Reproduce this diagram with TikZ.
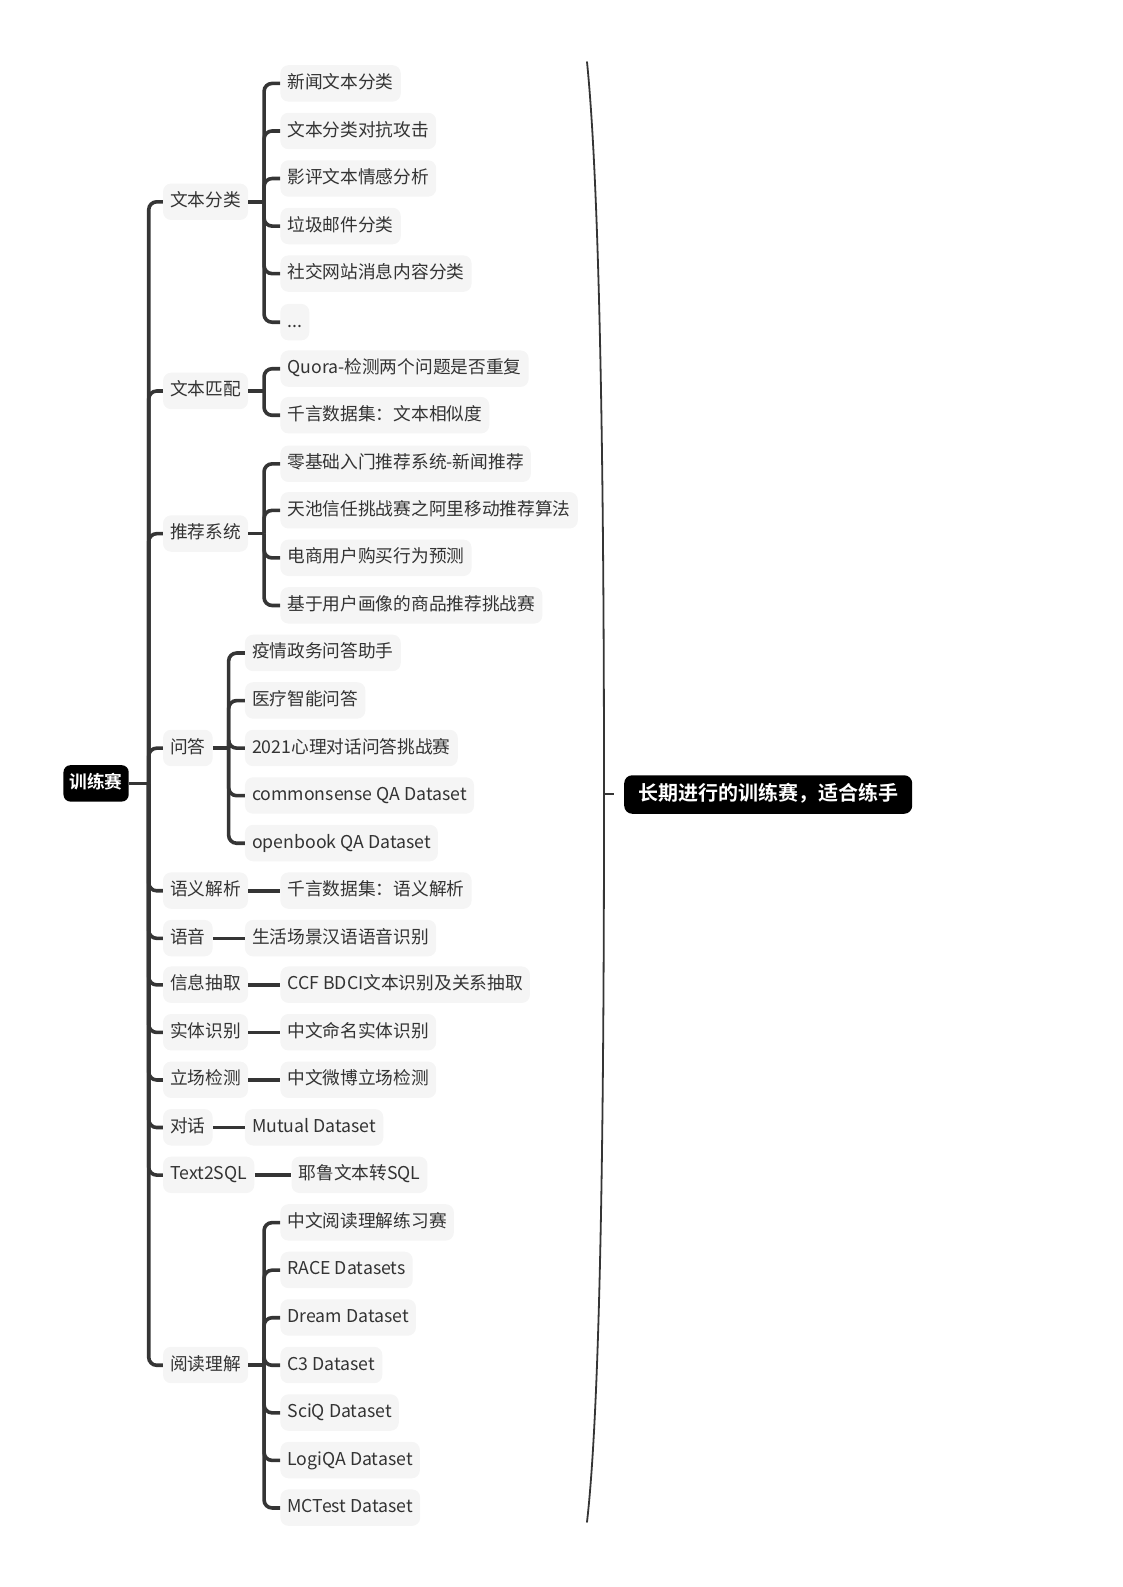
\documentclass[tikz,border=0pt]{standalone}
\usepackage{fontspec}
\setmainfont{Noto Sans CJK SC}[BoldFont={Noto Sans CJK SC Bold}]
\definecolor{linegray}{HTML}{353535}
\definecolor{boxgray}{HTML}{F5F5F5}
\definecolor{textgray}{HTML}{333333}
\begin{document}
\begin{tikzpicture}[x=1pt,y=-1pt,
  every node/.style={inner sep=0pt},
  cat/.style={fill=boxgray, rounded corners=8pt, inner xsep=7pt, minimum height=36pt,
    text=textgray, font=\fontsize{17.5}{20}\selectfont, text height=13.6pt, text depth=3.6pt, anchor=west},
  leaf/.style={cat},
  rootbox/.style={fill=black, rounded corners=7pt, inner xsep=6pt, minimum height=36pt,
    text=white, font=\fontsize{17.5}{20}\selectfont\bfseries, text height=13.6pt, text depth=3.6pt},
  notebox/.style={fill=black, rounded corners=8pt, inner xsep=14pt, minimum height=38.5pt,
    text=white, font=\fontsize{20}{23}\selectfont\bfseries, text height=15.5pt, text depth=4pt, anchor=west},
  conn/.style={draw=linegray, line width=3.6pt, rounded corners=8pt}]
\useasboundingbox (0,0) rectangle (1122,1587);

\begin{scope}[yshift=-2.5pt, scale=1.0115, transform shape]
% root
\node[rootbox] (root) at (95,772) {训练赛};
\coordinate (rj) at (147,772);
\draw[conn] (root.east) -- (rj);

% categories
\foreach \t/\y/\n in {文本分类/197/c1, 文本匹配/384/c2, 推荐系统/525/c3, 问答/737/c4,
  语义解析/878/c5, 语音/925/c6, 信息抽取/971/c7, 实体识别/1018/c8, 立场检测/1065/c9,
  对话/1112/c10, Text2SQL/1159/c11, 阅读理解/1347/c12}{
  \node[cat] (\n) at (161,\y) {\t};
  \draw[conn] (rj) |- (\n.west);
}

% 文本分类
\coordinate (j1) at (261,197);
\draw[conn] (c1.east) -- (j1);
\foreach \t/\y [count=\i] in {新闻文本分类/80, 文本分类对抗攻击/127, 影评文本情感分析/174,
  垃圾邮件分类/221, 社交网站消息内容分类/268}{
  \node[leaf] (l1-\i) at (277,\y) {\t};
  \draw[conn] (j1) |- (l1-\i.west);
}
\node[leaf] (l1-6) at (277,316) {...};
\draw[conn] (j1) |- (l1-6.west);

% 文本匹配
\coordinate (j2) at (261,384);
\draw[conn] (c2.east) -- (j2);
\foreach \t/\y [count=\i] in {Quora-检测两个问题是否重复/362, 千言数据集：文本相似度/408}{
  \node[leaf] (l2-\i) at (277,\y) {\t};
  \draw[conn] (j2) |- (l2-\i.west);
}

% 推荐系统
\coordinate (j3) at (261,525);
\draw[conn] (c3.east) -- (j3);
\foreach \t/\y [count=\i] in {零基础入门推荐系统-新闻推荐/456, 天池信任挑战赛之阿里移动推荐算法/502,
  电商用户购买行为预测/549, 基于用户画像的商品推荐挑战赛/596}{
  \node[leaf] (l3-\i) at (277,\y) {\t};
  \draw[conn] (j3) |- (l3-\i.west);
}

% 问答
\coordinate (j4) at (226,737);
\draw[conn] (c4.east) -- (j4);
\foreach \t/\y [count=\i] in {疫情政务问答助手/643, 医疗智能问答/690, 2021心理对话问答挑战赛/737,
  commonsense QA Dataset/784, openbook QA Dataset/831}{
  \node[leaf] (l4-\i) at (242,\y) {\t};
  \draw[conn] (j4) |- (l4-\i.west);
}

% single leaves
\node[leaf] (l5) at (277,878) {千言数据集：语义解析};
\draw[conn] (c5.east) -- (l5.west);
\node[leaf] (l6) at (242,925) {生活场景汉语语音识别};
\draw[conn] (c6.east) -- (l6.west);
\node[leaf] (l7) at (277,971) {CCF BDCI文本识别及关系抽取};
\draw[conn] (c7.east) -- (l7.west);
\node[leaf] (l8) at (277,1018) {中文命名实体识别};
\draw[conn] (c8.east) -- (l8.west);
\node[leaf] (l9) at (277,1065) {中文微博立场检测};
\draw[conn] (c9.east) -- (l9.west);
\node[leaf] (l10) at (242,1112) {Mutual Dataset};
\draw[conn] (c10.east) -- (l10.west);
\node[leaf] (l11) at (288,1159) {耶鲁文本转SQL};
\draw[conn] (c11.east) -- (l11.west);

% 阅读理解
\coordinate (j12) at (261,1347);
\draw[conn] (c12.east) -- (j12);
\foreach \t/\y [count=\i] in {中文阅读理解练习赛/1206, RACE Datasets/1253, Dream Dataset/1300,
  C3 Dataset/1347, SciQ Dataset/1394, LogiQA Dataset/1441, MCTest Dataset/1488}{
  \node[leaf] (l12-\i) at (277,\y) {\t};
  \draw[conn] (j12) |- (l12-\i.west);
}
\end{scope}

% summary brace (page coordinates)
\coordinate (bt) at (587,62);
\coordinate (bm) at (604,794);
\coordinate (bb) at (587,1522);
\coordinate (bk) at (614,794);
\draw[linegray, line width=1.8pt, line cap=round]
  (bt) .. controls (601,200) and (604,520) .. (bm)
       .. controls (604,1100) and (601,1400) .. (bb);
\draw[linegray, line width=1.8pt] (bm) -- (bk);
\node[notebox] (note) at (624,794.5) {长期进行的训练赛，适合练手};
\end{tikzpicture}
\end{document}
